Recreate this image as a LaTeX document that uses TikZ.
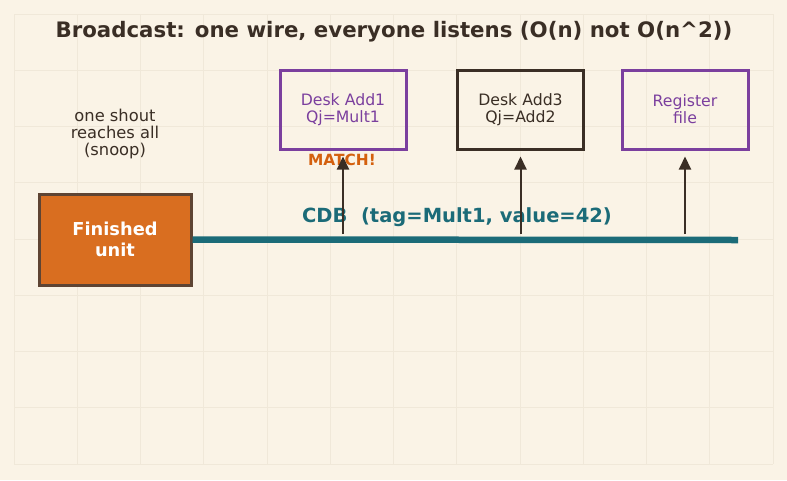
\documentclass[tikz,border=0pt]{standalone}
\usepackage{fontspec}
\setmainfont{DejaVu Sans}
\usetikzlibrary{arrows.meta}
\definecolor{bg}{HTML}{FAF3E6}
\definecolor{gridc}{HTML}{F0E8D9}
\definecolor{ink}{HTML}{3A2E25}
\definecolor{purp}{HTML}{7B3F9E}
\definecolor{orng}{HTML}{D96E20}
\definecolor{obrd}{HTML}{5E4433}
\definecolor{teal}{HTML}{1B6B78}
\definecolor{matchc}{HTML}{D4600E}
\tikzset{
  box/.style={draw, line width=3pt, minimum width=126pt, minimum height=79pt, align=center, inner sep=0pt,
    font=\fontsize{15.7}{17}\selectfont},
  pbox/.style={box, draw=purp, text=purp},
  kbox/.style={box, draw=ink, text=ink},
  fbox/.style={draw=obrd, fill=orng, line width=3pt, minimum width=152pt, minimum height=91pt, align=center,
    inner sep=0pt, text=white, font=\bfseries\fontsize{17.8}{21}\selectfont},
  listen/.style={draw=ink, line width=2pt, -{Triangle[length=13pt,width=12pt]}},
  bus/.style={draw=teal, line width=6.5pt},
}
\begin{document}
\begin{tikzpicture}[x=1pt,y=-1pt]
\fill[bg] (0,0) rectangle (787,480);
\useasboundingbox (0,0) rectangle (787,480);
% grid
\foreach \i in {0,...,12} {\draw[gridc, line width=0.8pt] ({14+\i*63.25},14) -- ({14+\i*63.25},464);}
\foreach \j in {0,...,8} {\draw[gridc, line width=0.8pt] (14,{14+\j*56.25}) -- (773,{14+\j*56.25});}
% title
\node[text=ink, font=\bfseries\fontsize{21.3}{25}\selectfont] (title) at (394,32) {Broadcast: one wire, everyone listens (O(n) not O(n\textasciicircum 2))};
% note
\node[text=ink, align=center, font=\fontsize{16.3}{16.8}\selectfont] (note) at (115,134) {one shout\\reaches all\\(snoop)};
% boxes
\node[fbox] (fin) at (115,239.5) {Finished\\unit};
\node[pbox] (add1) at (343,109.5) {Desk Add1\\Qj=Mult1};
\node[kbox] (add3) at (520.5,109.5) {Desk Add3\\Qj=Add2};
\node[pbox] (reg) at (685,109.5) {Register\\file};
% bus
\coordinate (busend) at (738,240);
\draw[bus] (fin.east) -- (busend);
\node[text=teal, font=\bfseries\fontsize{19.5}{22}\selectfont] (cdb) at (457,217) {CDB\ \ (tag=Mult1, value=42)};
\node[text=matchc, font=\bfseries\fontsize{15.4}{17}\selectfont] (match) at (342,160) {MATCH!};
% taps
\coordinate (t1) at (343,234);
\coordinate (t2) at (520.5,234);
\coordinate (t3) at (685,234);
\draw[listen, shorten >=6pt] (t1) -- (add1.south);
\draw[listen, shorten >=6pt] (t2) -- (add3.south);
\draw[listen, shorten >=6pt] (t3) -- (reg.south);
\end{tikzpicture}
\end{document}
